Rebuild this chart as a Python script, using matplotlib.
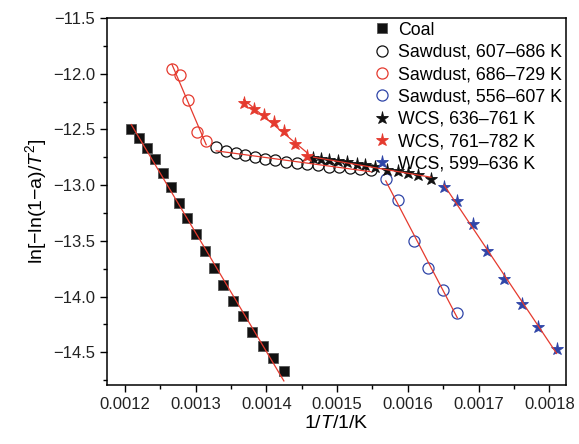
import numpy as np
import matplotlib
matplotlib.use("Agg")
import matplotlib.pyplot as plt
from matplotlib.ticker import MultipleLocator, FuncFormatter

plt.rcParams['font.family'] = ['Liberation Sans', 'DejaVu Sans']
plt.rcParams['mathtext.fontset'] = 'custom'
plt.rcParams['mathtext.rm'] = 'Liberation Sans'
plt.rcParams['mathtext.it'] = 'Liberation Sans:italic'

# coal
coal_x = [0.0012089, 0.0012202, 0.0012311, 0.0012418, 0.0012531, 0.0012644, 0.0012763, 0.0012880, 0.0013003,
          0.0013130, 0.0013258, 0.0013393, 0.0013530, 0.0013667, 0.0013803, 0.0013950, 0.0014096, 0.0014247]
coal_y = [-12.495, -12.576, -12.665, -12.770, -12.887, -13.016, -13.160, -13.295, -13.439,
          -13.594, -13.745, -13.900, -14.041, -14.179, -14.314, -14.442, -14.554, -14.671]

# sawdust 607-686 K
saw1_x = [0.0013290, 0.0013427, 0.0013566, 0.0013703, 0.0013841, 0.0013982, 0.0014128, 0.0014276,
          0.0014430, 0.0014580, 0.0014734, 0.0014884, 0.0015032, 0.0015179, 0.0015328, 0.0015476]
saw1_y = [-12.659, -12.692, -12.716, -12.733, -12.749, -12.765, -12.776, -12.790,
          -12.801, -12.812, -12.821, -12.833, -12.841, -12.848, -12.855, -12.862]

# sawdust 686-729 K
saw2_x = [0.0012664, 0.0012781, 0.0012885, 0.0013017, 0.0013149]
saw2_y = [-11.958, -12.012, -12.237, -12.520, -12.603]

# sawdust 556-607 K
saw3_x = [0.0015688, 0.0015866, 0.0016088, 0.0016282, 0.0016502, 0.0016700]
saw3_y = [-12.941, -13.136, -13.502, -13.745, -13.945, -14.146]

# WCS 636-761 K
wcs1_x = [0.0014665, 0.0014770, 0.0014891, 0.0015018, 0.0015137, 0.0015278, 0.0015396,
          0.0015537, 0.0015711, 0.0015866, 0.0016007, 0.0016149, 0.0016328]
wcs1_y = [-12.761, -12.767, -12.776, -12.785, -12.797, -12.809, -12.821,
          -12.836, -12.860, -12.875, -12.890, -12.911, -12.947]

# WCS 761-782 K
wcs2_x = [0.0013680, 0.0013827, 0.0013968, 0.0014112, 0.0014254, 0.0014411, 0.0014572]
wcs2_y = [-12.259, -12.320, -12.371, -12.434, -12.513, -12.629, -12.736]

# WCS 599-636 K
wcs3_x = [0.0016512, 0.0016691, 0.0016917, 0.0017124, 0.0017364, 0.0017610, 0.0017844, 0.0018104]
wcs3_y = [-13.016, -13.142, -13.345, -13.594, -13.846, -14.071, -14.275, -14.469]

red = '#e53a2e'
blue = '#2f45a8'

fig = plt.figure(figsize=(5.79, 4.44), dpi=100)
ax = fig.add_axes([0.1848, 0.1329, 0.7927, 0.8266])

series = [
    (coal_x, coal_y, 'Coal', dict(marker='s', ms=7.4, mfc='#111111', mec='#555555', mew=0.6)),
    (saw1_x, saw1_y, 'Sawdust, 607\u2013686 K', dict(marker='o', ms=8, mfc='none', mec='#111111', mew=0.9)),
    (saw2_x, saw2_y, 'Sawdust, 686\u2013729 K', dict(marker='o', ms=8, mfc='none', mec=red, mew=0.9)),
    (saw3_x, saw3_y, 'Sawdust, 556\u2013607 K', dict(marker='o', ms=8, mfc='none', mec=blue, mew=0.9)),
    (wcs1_x, wcs1_y, 'WCS, 636\u2013761 K', dict(marker='*', ms=9.5, mfc='#111111', mec='#111111', mew=0.6)),
    (wcs2_x, wcs2_y, 'WCS, 761\u2013782 K', dict(marker='*', ms=9.5, mfc=red, mec=red, mew=0.6)),
    (wcs3_x, wcs3_y, 'WCS, 599\u2013636 K', dict(marker='*', ms=9.5, mfc=blue, mec=blue, mew=0.6)),
]

for xs, ys, lab, st in series:
    ax.plot(xs, ys, ls='none', label=lab, zorder=3, **st)
    # linear fit line
    k, b = np.polyfit(xs, ys, 1)
    xx = np.array([min(xs), max(xs)])
    ax.plot(xx, k * xx + b, color=red, lw=0.9, zorder=4)

ax.set_xlim(0.0011746, 0.0018236)
ax.set_ylim(-14.794, -11.5)
ax.xaxis.set_major_locator(MultipleLocator(0.0001))
ax.xaxis.set_minor_locator(MultipleLocator(0.00005))
ax.xaxis.set_major_formatter(FuncFormatter(lambda v, p: f'{v:.4f}'))
ax.yaxis.set_major_locator(MultipleLocator(0.5))
ax.yaxis.set_minor_locator(MultipleLocator(0.25))
ax.yaxis.set_major_formatter(FuncFormatter(lambda v, p: f'{v:.1f}'.replace('-', '\u2212')))
ax.tick_params(which='major', direction='out', length=5, width=1, labelsize=12, labelcolor='#222222')
ax.tick_params(which='minor', direction='out', length=3, width=1)
for s in ax.spines.values():
    s.set_linewidth(1.1)

ax.set_xlabel(r'1/$T$/1/K', fontsize=14, labelpad=2)
ax.set_ylabel('ln[\u2212ln(1\u2212a)/$T^2$]', fontsize=14, labelpad=3)

ax.legend(loc='upper right', frameon=False, fontsize=12.8, handletextpad=0.4,
          labelspacing=0.3, borderaxespad=0.1, handlelength=1.0, borderpad=0.1)

fig.savefig('out.png', dpi=100)
